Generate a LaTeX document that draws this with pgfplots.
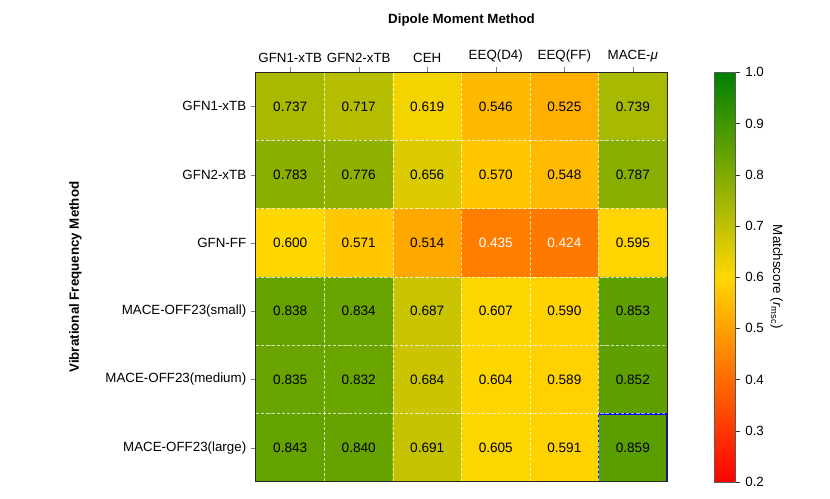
\documentclass[border=0pt]{standalone}
\usepackage{fontspec}
\setmainfont{Liberation Sans}
\usepackage{pgfplots}
\pgfplotsset{compat=1.18}
\usepackage{pgfplotstable}

\newcommand\fz{\fontsize{9.6}{11}\selectfont}
\newcommand\fv{\fontsize{9.8}{11}\selectfont}

% x = dipole moment method (column), y = vibrational frequency method (row), v = matchscore
\pgfplotstableread{
x y v
0 0 0.737
1 0 0.717
2 0 0.619
3 0 0.546
4 0 0.525
5 0 0.739
0 1 0.783
1 1 0.776
2 1 0.656
3 1 0.570
4 1 0.548
5 1 0.787
0 2 0.600
1 2 0.571
2 2 0.514
3 2 0.435
4 2 0.424
5 2 0.595
0 3 0.838
1 3 0.834
2 3 0.687
3 3 0.607
4 3 0.590
5 3 0.853
0 4 0.835
1 4 0.832
2 4 0.684
3 4 0.604
4 4 0.589
5 4 0.852
0 5 0.843
1 5 0.840
2 5 0.691
3 5 0.605
4 5 0.591
5 5 0.859
}\scores

\begin{document}
\begin{tikzpicture}
\path[use as bounding box] (0,0) rectangle (597.6pt,358.6pt);
\begin{axis}[
  at={(184.3pt,11.6pt)}, anchor=south west,
  scale only axis, width=296pt, height=295pt,
  xmin=-0.5, xmax=5.5, ymin=-0.5, ymax=5.5,
  y dir=reverse,
  enlargelimits=false,
  axis on top,
  xtick={0,...,5}, ytick={0,...,5},
  xticklabels={GFN1-xTB,GFN2-xTB,CEH,EEQ(D4),EEQ(FF),MACE-\textit{μ}},
  yticklabels={GFN1-xTB,GFN2-xTB,GFN-FF,MACE-OFF23(small),MACE-OFF23(medium),MACE-OFF23(large)},
  xticklabel pos=top, xtick pos=top, ytick pos=left,
  tick align=outside, major tick length=3.5pt,
  every tick label/.append style={font=\fz},
  minor xtick={0.5,1.5,2.5,3.5,4.5}, minor ytick={0.5,1.5,2.5,3.5,4.5},
  xminorgrids=true, yminorgrids=true, minor tick length=0pt,
  minor grid style={white, opacity=0.7, line width=0.7pt, dash pattern=on 2.4pt off 1.3pt},
  axis line style={black!85, line width=0.7pt},
  xlabel={\textbf{Dipole Moment Method}},
  ylabel={\textbf{Vibrational Frequency Method}},
  every axis x label/.style={at={(axis description cs:0.5,1.127)}, anchor=center, font=\fz},
  every axis y label/.style={at={(axis description cs:-0.439,0.5)}, anchor=center, rotate=90, font=\fz},
  colormap={matchscore}{rgb255(0)=(255,0,0) rgb255(1)=(255,215,0) rgb255(2)=(0,128,0)},
  point meta min=0.2, point meta max=1.0,
  colorbar,
  colorbar style={
    at={(parent axis.north east)}, anchor=north west, xshift=25.8pt,
    scale only axis, width=15pt, height=295pt,
    ytick={0.2,0.3,0.4,0.5,0.6,0.7,0.8,0.9,1.0},
    ytick pos=right, yticklabel pos=right,
    yticklabel style={/pgf/number format/.cd, fixed, fixed zerofill, precision=1},
    /pgf/number format/assume math mode=true,
    every tick label/.append style={font=\fz},
    tick align=outside, major tick length=3.5pt,
    tick style={black!80},
    axis line style={black!65, line width=0.6pt},
    ylabel={Matchscore (\textit{r}\textsubscript{msc})},
    every axis y label/.style={at={(axis description cs:2.97,0.5)}, anchor=center, rotate=-90, font=\fz},
  },
]
\addplot[matrix plot*, mesh/cols=6, point meta=explicit] table[x=x, y=y, meta=v] {\scores};
\draw[blue, line width=1.3pt] (axis cs:4.5,4.5) rectangle (axis cs:5.5,5.5);
% cell labels: black on light cells, white on dark cells
\addplot[only marks, mark=none, point meta=explicit symbolic, nodes near coords,
  restrict expr to domain={\thisrow{v}}{0.45:1.1},
  every node near coord/.append style={anchor=center, font=\fv, text=black}]
  table[x=x, y=y, meta=v] {\scores};
\addplot[only marks, mark=none, point meta=explicit symbolic, nodes near coords,
  restrict expr to domain={\thisrow{v}}{0:0.45},
  every node near coord/.append style={anchor=center, font=\fv, text=white}]
  table[x=x, y=y, meta=v] {\scores};
\end{axis}
\end{tikzpicture}
\end{document}
